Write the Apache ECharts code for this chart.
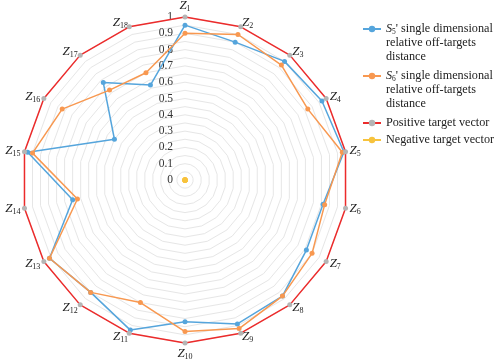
<!DOCTYPE html>
<html>
<head>
<meta charset="utf-8">
<script src="https://cdn.jsdelivr.net/npm/echarts@6/dist/echarts.min.js"></script>
<style>
  html, body { margin: 0; padding: 0; background: #fff; }
  #chart { width: 498px; height: 363px; }
</style>
</head>
<body>
<div id="chart"></div>
<script>
// indicator subscripts Z1..Z18, clockwise from the top
var indicators = ['1', '2', '3', '4', '5', '6', '7', '8', '9', '10', '11', '12', '13', '14', '15', '16', '17', '18']
var s5Values = [0.95, 0.90, 0.95, 0.97, 0.99, 0.86, 0.86, 0.93, 0.94, 0.87, 0.98, 0.90, 0.96, 0.70, 0.98, 0.50, 0.78, 0.62]
var s6Values = [0.90, 0.95, 0.92, 0.87, 0.98, 0.87, 0.90, 0.93, 0.97, 0.93, 0.80, 0.90, 0.96, 0.67, 0.95, 0.87, 0.72, 0.70]
var positiveValues = [1, 1, 1, 1, 1, 1, 1, 1, 1, 1, 1, 1, 1, 1, 1, 1, 1, 1]
var negativeValues = [0, 0, 0, 0, 0, 0, 0, 0, 0, 0, 0, 0, 0, 0, 0, 0, 0, 0]

var serif = '"Liberation Serif", "Times New Roman", serif'
var textColor = '#222'
var colors = {
  s5: '#55a5dc',
  s6: '#f89850',
  pos: '#ec2b2b',
  posDot: '#b5b5b5',
  neg: '#f7c33d'
}

// radar runs counter-clockwise, so keep Z1 on top and flip the rest
var n = indicators.length
var order = indicators.map(function (s, i) { return i === 0 ? 0 : n - i })
function reorder(arr) {
  return order.map(function (k) { return arr[k] })
}

var indicatorList = order.map(function (k) {
  var item = { name: indicators[k], min: 0, max: 1 }
  if (k === 0) {
    // only the vertical axis carries the 0 ~ 1 labels
    item.axisLabel = {
      show: true,
      fontFamily: serif,
      fontSize: 11.5,
      color: '#333',
      margin: 12,
      formatter: function (v) {
        return Math.round(v * 100) % 10 === 0 ? String(Math.round(v * 10) / 10) : ''
      }
    }
  }
  return item
})

var legendRich = {
  s: { fontFamily: serif, fontStyle: 'italic', fontSize: 12.2, color: textColor, lineHeight: 14 },
  sub: { fontFamily: serif, fontSize: 7.5, color: textColor, verticalAlign: 'bottom', lineHeight: 14, padding: [5, 0, 0, 0] },
  t: { fontFamily: serif, fontSize: 12.2, color: textColor, lineHeight: 14 }
}

// empty line series, only so the legend draws line + dot icons
function legendSeries(name, line, dot) {
  return {
    type: 'line',
    name: name,
    data: [],
    symbol: 'circle',
    symbolSize: 5,
    lineStyle: { color: line, width: 1.5 },
    itemStyle: { color: dot }
  }
}

var chart = echarts.init(document.getElementById('chart'))

chart.setOption({
  backgroundColor: '#fff',
  animation: false,
  grid: { left: 0, top: 0, width: 1, height: 1, show: false },
  xAxis: { show: false },
  yAxis: { show: false },
  legend: [
    {
      orient: 'vertical',
      left: 357,
      top: -11,
      itemWidth: 18,
      itemHeight: 8,
      itemGap: -23,
      textStyle: { fontFamily: serif, fontSize: 12.2, color: textColor, lineHeight: 14, padding: [28, 0, 0, 0], rich: legendRich },
      data: ['S5', 'S6'],
      formatter: function (name) {
        return '{s|S}{sub|' + name.slice(1) + '}{t|\' single dimensional}\n{t|relative off-targets}\n{t|distance}'
      }
    },
    {
      orient: 'vertical',
      left: 357,
      top: 111,
      itemWidth: 18,
      itemHeight: 8,
      itemGap: 3,
      textStyle: { fontFamily: serif, fontSize: 12.2, color: textColor, lineHeight: 14 },
      data: ['Positive target vector', 'Negative target vector']
    }
  ],
  radar: {
    center: [185, 180],
    radius: 163,
    startAngle: 90,
    shape: 'polygon',
    splitNumber: 20,
    indicator: indicatorList,
    axisName: {
      color: textColor,
      fontFamily: serif,
      formatter: function (v) {
        return '{z|Z}{sub|' + v + '}'
      },
      rich: {
        z: { fontFamily: serif, fontStyle: 'italic', fontSize: 13, color: textColor },
        sub: { fontFamily: serif, fontSize: 8, color: textColor, verticalAlign: 'bottom', padding: [6, 0, 0, 0] }
      }
    },
    nameGap: 4,
    axisLine: { show: false },
    axisTick: { show: false },
    axisLabel: { show: false },
    splitArea: { show: false },
    splitLine: { lineStyle: { color: '#e6e6e6', width: 1 } }
  },
  series: [
    {
      type: 'radar',
      symbol: 'circle',
      symbolSize: 5,
      data: [
        {
          name: 'S5',
          value: reorder(s5Values),
          lineStyle: { color: colors.s5, width: 1.5 },
          itemStyle: { color: colors.s5 }
        },
        {
          name: 'S6',
          value: reorder(s6Values),
          lineStyle: { color: colors.s6, width: 1.5 },
          itemStyle: { color: colors.s6 }
        },
        {
          name: 'Positive target vector',
          value: reorder(positiveValues),
          lineStyle: { color: colors.pos, width: 1.5 },
          itemStyle: { color: colors.posDot }
        },
        {
          name: 'Negative target vector',
          value: reorder(negativeValues),
          lineStyle: { color: colors.neg, width: 1.5 },
          itemStyle: { color: colors.neg }
        }
      ]
    },
    legendSeries('S5', colors.s5, colors.s5),
    legendSeries('S6', colors.s6, colors.s6),
    legendSeries('Positive target vector', colors.pos, colors.posDot),
    legendSeries('Negative target vector', colors.neg, colors.neg)
  ]
})
</script>
</body>
</html>
